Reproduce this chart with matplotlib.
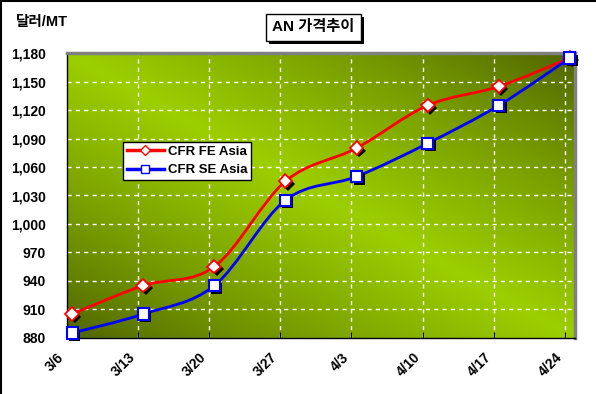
import numpy as np
import matplotlib
matplotlib.use('Agg')
import matplotlib.pyplot as plt
from matplotlib.path import Path
from matplotlib.patches import PathPatch, Rectangle
import matplotlib.patheffects as pe
from matplotlib.lines import Line2D

# data
dates = ['3/6', '3/13', '3/20', '3/27', '4/3', '4/10', '4/17', '4/24']
days = [0.5, 7.5, 14.5, 21.5, 28.5, 35.5, 42.5, 49.5]   # days since 3/6
fe_asia = [905, 935, 955, 1045, 1080, 1125, 1145, 1175]
se_asia = [885, 905, 935, 1025, 1050, 1085, 1125, 1175]
y_ticks = [880, 910, 940, 970, 1000, 1030, 1060, 1090, 1120, 1150, 1180]

fonts = ['Liberation Sans', 'Noto Sans CJK KR', 'DejaVu Sans']
plt.rcParams['font.family'] = fonts
plt.rcParams['font.weight'] = 'bold'


def smooth_path(xs, ys):
    # excel-like smoothed line: catmull-rom as cubic bezier
    pts = np.column_stack([xs, ys]).astype(float)
    n = len(pts)
    verts = [pts[0]]
    codes = [Path.MOVETO]
    for i in range(n - 1):
        p0 = pts[max(i - 1, 0)]
        p1 = pts[i]
        p2 = pts[i + 1]
        p3 = pts[min(i + 2, n - 1)]
        verts += [p1 + (p2 - p0) / 6, p2 - (p3 - p1) / 6, p2]
        codes += [Path.CURVE4] * 3
    return Path(verts, codes)


fig = plt.figure(figsize=(5.96, 3.94), dpi=100)
ax = fig.add_axes([67 / 596, 56.25 / 394, 508 / 596, 284.5 / 394])

# gradient background (dark corners bottom-left / top-right)
u, w = np.meshgrid(np.linspace(0, 1, 300), np.linspace(0, 1, 200))
t = (u + w) / 2
k = 1 - np.abs(2 * t - 1)
dark = np.array([0x4c, 0x60, 0x00]) / 255
bright = np.array([0x9c, 0xcf, 0x00]) / 255
img = dark + (bright - dark) * k[..., None] ** 0.8
ax.imshow(img, extent=[0, 50, 880, 1180], origin='lower', aspect='auto', zorder=0)

ax.set_xlim(0, 50)
ax.set_ylim(880, 1180)
ax.set_xticks([7 * i for i in range(len(dates))])
ax.set_xticklabels(dates, rotation=45, ha='right', va='top', fontsize=10, fontweight='bold')
ax.set_yticks(y_ticks)
ax.set_yticklabels([f'{v:,}' for v in y_ticks], fontsize=10, fontweight='bold')
ax.tick_params(axis='x', direction='in', length=4, color='black', pad=9)
ax.tick_params(axis='y', length=0, pad=15)

for x in ax.get_xticks()[1:]:
    ax.axvline(x, color='white', lw=1, ls=(0, (3, 3)), zorder=1)
for y in y_ticks[1:-1]:
    ax.axhline(y, color='white', lw=1, ls=(0, (3, 3)), zorder=1)

for side in ['left', 'bottom']:
    ax.spines[side].set_color('black')
    ax.spines[side].set_linewidth(1)
for side in ['top', 'right']:
    ax.spines[side].set_color('#808080')
    ax.spines[side].set_linewidth(2.5)

shadow = [pe.SimplePatchShadow(offset=(1.8, -1.8), shadow_rgbFace='black', alpha=1), pe.Normal()]

ax.add_patch(PathPatch(smooth_path(days, fe_asia), fill=False, edgecolor='#ff0000', lw=2, zorder=3))
ax.plot(days, fe_asia, ls='none', marker='D', ms=7, mfc='white', mec='#ff0000', mew=1.3,
        zorder=4, clip_on=False, path_effects=shadow)
ax.add_patch(PathPatch(smooth_path(days, se_asia), fill=False, edgecolor='#0000ff', lw=2, zorder=5))
ax.plot(days, se_asia, ls='none', marker='s', ms=8, mfc='white', mec='#0000ff', mew=1.5,
        zorder=6, clip_on=False, path_effects=shadow)

handles = [Line2D([], [], color='#ff0000', lw=2.5, marker='D', ms=5, mfc='white', mec='#ff0000'),
           Line2D([], [], color='#0000ff', lw=2.5, marker='s', ms=6, mfc='white', mec='#0000ff')]
leg = ax.legend(handles, ['CFR FE Asia', 'CFR SE Asia'], loc='upper left',
                bbox_to_anchor=(56 / 508, 1 - 88.5 / 284.5), fancybox=False, framealpha=1,
                edgecolor='black', prop={'size': 9.5, 'weight': 'bold'}, handlelength=2.8,
                borderpad=0.3, labelspacing=0.45, handletextpad=0.3, borderaxespad=0)
leg.get_frame().set_linewidth(1)
leg.set_zorder(10)

fig.text(16 / 596, 1 - 22 / 394, '달러/MT', fontsize=10.5, fontweight='bold', va='center', ha='left')

# title box with shadow
fig.patches.append(Rectangle((269 / 596, 1 - 44 / 394), 95 / 596, 27 / 394,
                             transform=fig.transFigure, facecolor='black', edgecolor='none'))
fig.patches.append(Rectangle((266 / 596, 1 - 41 / 394), 95 / 596, 27 / 394,
                             transform=fig.transFigure, facecolor='white', edgecolor='black', lw=1))
fig.text(313.5 / 596, 1 - 27.5 / 394, 'AN 가격추이', fontsize=11, fontweight='bold',
         va='center', ha='center')

# chart area border
fig.add_artist(Line2D([0.5 / 596, 0.5 / 596], [0, 1], color='black', lw=1.5, transform=fig.transFigure))
fig.add_artist(Line2D([0, 1], [1 - 0.5 / 394, 1 - 0.5 / 394], color='black', lw=1.5, transform=fig.transFigure))

fig.savefig('out.png', dpi=100)
